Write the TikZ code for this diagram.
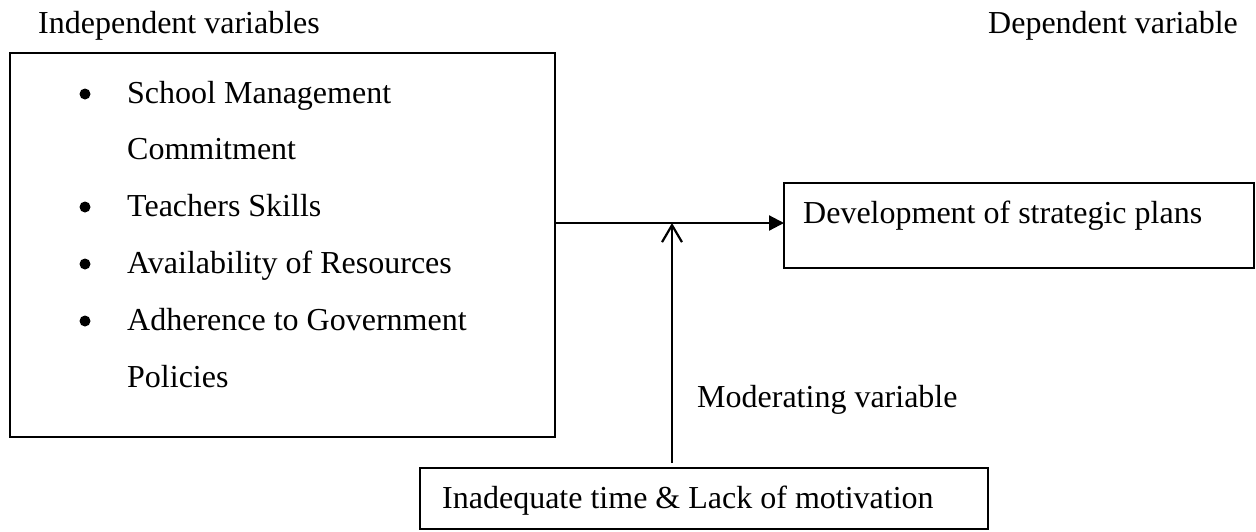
\documentclass[tikz,border=0pt]{standalone}
\usepackage{fontspec}
\setmainfont{Liberation Serif}
\usetikzlibrary{arrows.meta}
\begin{document}
\begin{tikzpicture}[x=1pt,y=-1pt,
  txt/.style={anchor=base west,inner sep=0pt,font=\fontsize{32}{38}\selectfont},
  frame/.style={draw,line width=2pt},
  bul/.style={circle,fill,inner sep=0pt,minimum size=11pt},
  conn/.style={line width=2.2pt}]
\useasboundingbox (0,0) rectangle (1256,531);
% labels
\node[txt] (lind) at (38,33) {Independent variables};
\node[txt] (ldep) at (988,33) {Dependent variable};
% left box
\draw[frame] (10,53) rectangle (555,437);
\coordinate (lbR) at (555,223);
\node[bul] (b1) at (85,94) {};
\node[txt] (t1) at (127,103) {School Management};
\node[txt] (t1b) at (127,159) {Commitment};
\node[bul] (b2) at (85,207) {};
\node[txt] (t2) at (127,216) {Teachers Skills};
\node[bul] (b3) at (85,264) {};
\node[txt] (t3) at (127,273) {Availability of Resources};
\node[bul] (b4) at (85,321) {};
\node[txt] (t4) at (127,330) {Adherence to Government};
\node[txt] (t4b) at (127,387) {Policies};
% right box
\draw[frame] (784,183) rectangle (1254,268);
\coordinate (depW) at (784,223);
\node[txt] (tdep) at (803,223) {Development of strategic plans};
% bottom box
\draw[frame] (420,468) rectangle (988,529);
\coordinate (modN) at (672,463);
\node[txt] (tmod) at (442,508) {Inadequate time \& Lack of motivation};
\node[txt] (lmod) at (697,407) {Moderating variable};
% connectors
\coordinate (top) at (672,223);
\draw[conn,-{Triangle[length=15pt,width=15pt]}] (lbR) -- (depW);
\draw[conn,-{Straight Barb[length=17pt,width=20pt,line width=2.2pt]}] (modN) -- (top);
\end{tikzpicture}
\end{document}
